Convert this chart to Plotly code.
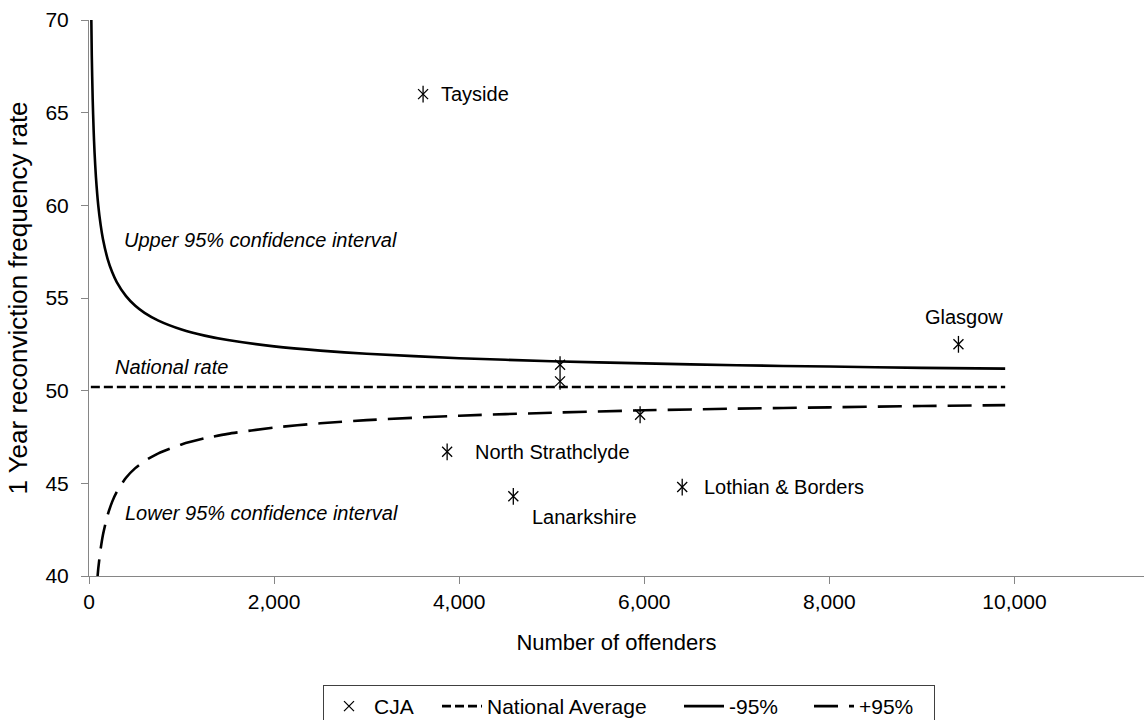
import plotly.graph_objects as go

# CJA points: number of offenders vs 1-year reconviction frequency rate
cja_names = ["Tayside", "North Strathclyde", "Lanarkshire", "Lothian & Borders",
             "Glasgow", "", "", ""]
cja_offenders = [3610, 3870, 4585, 6410, 9395, 5090, 5090, 5955]
cja_rate = [66.0, 46.7, 44.3, 44.8, 52.5, 51.4, 50.5, 48.7]

# Confidence limits and national rate along the offender axis
n_points = [20, 30, 40, 50, 60, 75, 100, 125, 150, 200, 250, 300, 400, 500, 600, 750,
            1000, 1250, 1500, 2000, 2500, 3000, 4000, 5000, 6000, 7000, 8000,
            9000, 9900]
upper_95 = [72.11, 68.09, 65.70, 64.06, 62.85, 61.52, 60.00, 58.97, 58.20, 57.13,
            56.40, 55.86, 55.10, 54.58, 54.20, 53.78, 53.30, 52.97, 52.73, 52.39,
            52.16, 51.99, 51.75, 51.59, 51.47, 51.37, 51.30, 51.23, 51.19]
lower_95 = [28.29, 32.31, 34.70, 36.34, 37.55, 38.88, 40.40, 41.43, 42.20, 43.27,
            44.00, 44.54, 45.30, 45.82, 46.20, 46.62, 47.10, 47.43, 47.67, 48.01,
            48.24, 48.41, 48.65, 48.81, 48.94, 49.03, 49.10, 49.17, 49.22]
national_rate = 50.2

x_ticks = [0, 2000, 4000, 6000, 8000, 10000]
y_ticks = [40, 45, 50, 55, 60, 65, 70]

FONT = "Liberation Sans, Arial, sans-serif"

fig = go.Figure()

fig.add_trace(go.Scatter(
    x=cja_offenders, y=cja_rate, mode="markers", name="CJA", legendwidth=58,
    marker=dict(symbol="x-thin-open", size=10, color="black",
                line=dict(color="black", width=1.3)),
))
fig.add_trace(go.Scatter(
    x=cja_offenders, y=cja_rate, mode="markers", showlegend=False,
    marker=dict(symbol="line-ns-open", size=12, color="black",
                line=dict(color="black", width=1.3)),
))
fig.add_trace(go.Scatter(
    x=n_points, y=[national_rate] * len(n_points), mode="lines",
    name="National Average", legendwidth=187,
    line=dict(color="black", width=2.6, dash="9px,4px"),
))
fig.add_trace(go.Scatter(
    x=n_points, y=upper_95, mode="lines", name="-95%", legendwidth=75,
    line=dict(color="black", width=2.6, shape="spline", smoothing=0.6),
))
fig.add_trace(go.Scatter(
    x=n_points, y=lower_95, mode="lines", name="+95%", legendwidth=70,
    line=dict(color="black", width=2.6, dash="24px,11px", shape="spline",
              smoothing=0.6),
))

# Point labels: x shift, y shift (px, downwards), anchors
label_pos = {
    "Tayside": (16, 0, "left"),
    "North Strathclyde": (26, 0, "left"),
    "Lanarkshire": (17, 21, "left"),
    "Lothian & Borders": (20, 0, "left"),
    "Glasgow": (6, -27, "center"),
}
for name, xv, yv in zip(cja_names, cja_offenders, cja_rate):
    if not name:
        continue
    dx, dy, xa = label_pos[name]
    fig.add_annotation(x=xv, y=yv, text=name, showarrow=False, xshift=dx,
                       yshift=-dy, xanchor=xa, yanchor="middle",
                       font=dict(family=FONT, size=20, color="black"))

region_notes = [
    ("<i>Upper 95% confidence interval</i>", 122, 240),
    ("<i>National rate</i>", 113, 367),
    ("<i>Lower 95% confidence interval</i>", 123, 513),
]
for txt, px, py in region_notes:
    fig.add_annotation(xref="paper", yref="paper",
                       x=(px - 89) / 1055, y=(576 - py) / 556, text=txt,
                       showarrow=False, xanchor="left", yanchor="middle",
                       font=dict(family=FONT, size=20, color="black"))

axis_common = dict(
    showgrid=False, zeroline=False, showline=True, linecolor="#868686",
    linewidth=1, ticks="outside", ticklen=7, tickcolor="#868686",
    tickfont=dict(family=FONT, size=21, color="black"),
)

fig.update_layout(
    width=1144, height=720,
    margin=dict(l=89, r=0, t=20, b=144, autoexpand=False),
    plot_bgcolor="white", paper_bgcolor="white",
    font=dict(family=FONT, color="black"),
    xaxis=dict(range=[0, 11400], tickvals=x_ticks, tickformat=",d",
               automargin=False,
               title=dict(text="Number of offenders", standoff=22,
                          font=dict(family=FONT, size=22)),
               **axis_common),
    yaxis=dict(range=[40, 70], tickvals=y_ticks, automargin=False,
               ticklabelstandoff=8,
               title=dict(text="1 Year reconviction frequency rate", standoff=10,
                          font=dict(family=FONT, size=26)),
               **axis_common),
    legend=dict(orientation="h", x=(323 - 89) / 1055, xanchor="left",
                y=(576 - 685) / 556, yanchor="top",
                bordercolor="#404040", borderwidth=1, bgcolor="white",
                font=dict(family=FONT, size=21), itemwidth=40,
                tracegroupgap=0),
    showlegend=True,
)

fig.write_html("out.html")
